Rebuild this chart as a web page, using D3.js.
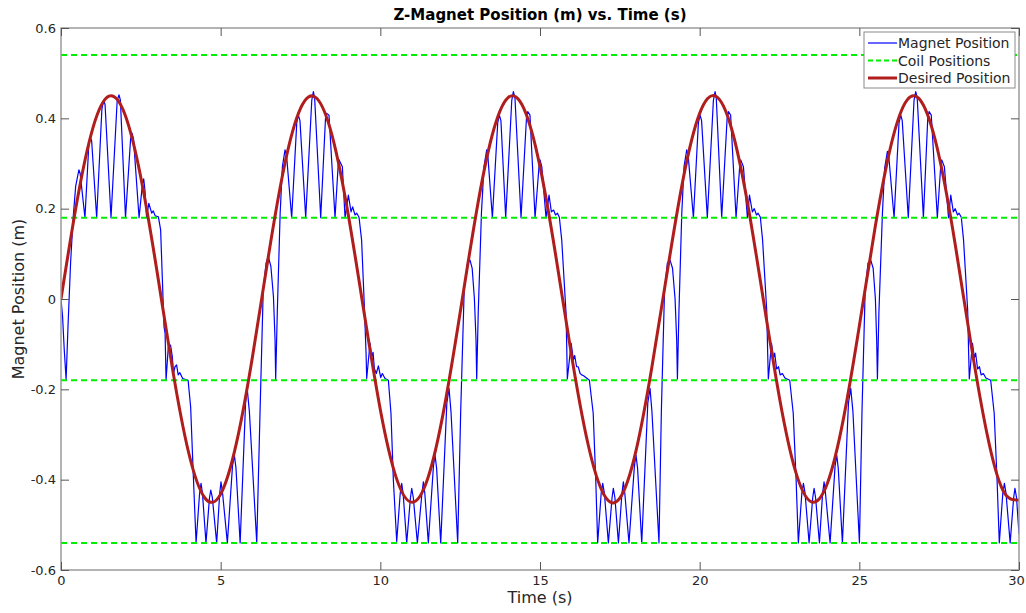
<!DOCTYPE html>
<html>
<head>
<meta charset="utf-8">
<script src="https://cdn.jsdelivr.net/npm/d3@7"></script>
<style>
  body { margin: 0; background: #fff; }
  text { font-family: "DejaVu Sans", sans-serif; }
</style>
</head>
<body>
<svg id="chart" width="1026" height="613"></svg>
<script>
// ---- data ----
const xTicks = [0, 5, 10, 15, 20, 25, 30];
const yTicks = [-0.6, -0.4, -0.2, 0, 0.2, 0.4, 0.6];
const coilPositions = [0.54, 0.18, -0.18, -0.54];

// desired trajectory, sampled every 0.5 s from 0 to 30 s
const desiredStep = 0.5;
const desiredPos = [
  0.000, 0.216, 0.379, 0.449, 0.409, 0.269, 0.064, -0.158, -0.341, -0.440,
  -0.432, -0.317, -0.126, 0.097, 0.296, 0.422, 0.445, 0.359, 0.185, -0.034,
  -0.245, -0.396, -0.450, -0.394, -0.241, -0.030, 0.189, 0.362, 0.446, 0.421,
  0.293, 0.093, -0.130, -0.320, -0.433, -0.441, -0.338, -0.152, 0.067, 0.272,
  0.411, 0.449, 0.377, 0.212, -0.004, -0.219, -0.381, -0.449, -0.408, -0.266,
  -0.060, 0.161, 0.343, 0.441, 0.430, 0.315, 0.122, -0.101, -0.299, -0.424,
  -0.445
];

// magnet response, one array per cycle: [time within cycle (s), position (m)]
const cycleStart = [0, 6.283, 12.566, 18.850, 25.133];
const cycle1 = [
  [0, 0], [0.05, -0.04], [0.10, -0.11], [0.16, -0.178], [0.22, -0.06], [0.30, 0.08],
  [0.38, 0.18], [0.46, 0.25], [0.56, 0.286], [0.60, 0.278], [0.75, 0.180], [0.87, 0.34],
  [0.92, 0.358], [0.96, 0.35], [1.117, 0.180], [1.28, 0.42], [1.337, 0.441], [1.38, 0.43],
  [1.566, 0.180], [1.76, 0.44], [1.816, 0.452], [1.86, 0.44], [2.02, 0.180], [2.18, 0.355],
  [2.224, 0.367], [2.27, 0.355], [2.445, 0.180], [2.55, 0.255], [2.59, 0.266], [2.63, 0.24],
  [2.68, 0.180], [2.75, 0.212], [2.84, 0.19], [2.89, 0.195], [2.95, 0.184], [3.05, 0.182],
  [3.12, 0.153], [3.16, 0.072], [3.226, -0.061], [3.26, -0.076], [3.29, -0.180], [3.36, -0.106],
  [3.43, -0.102], [3.487, -0.128], [3.52, -0.165], [3.57, -0.15], [3.62, -0.146], [3.67, -0.168],
  [3.72, -0.163], [3.81, -0.176], [3.98, -0.180], [4.06, -0.239], [4.145, -0.393], [4.23, -0.540],
  [4.34, -0.43], [4.385, -0.408], [4.43, -0.43], [4.54, -0.540], [4.65, -0.44], [4.69, -0.423],
  [4.74, -0.44], [4.875, -0.540], [4.97, -0.43], [5.01, -0.405], [5.06, -0.43], [5.21, -0.540],
  [5.37, -0.37], [5.43, -0.346], [5.48, -0.375], [5.61, -0.540], [5.78, -0.23], [5.83, -0.198],
  [5.90, -0.25], [6.13, -0.540]
];
const cycle2 = [
  [-0.05, -0.25], [0.05, 0.02], [0.14, 0.08], [0.21, 0.094], [0.29, 0.072], [0.37, 0.005],
  [0.42, -0.09], [0.44, -0.178], [0.49, -0.03], [0.58, 0.19], [0.65, 0.293], [0.733, 0.330],
  [0.78, 0.318], [0.941, 0.180], [1.10, 0.39], [1.15, 0.407], [1.20, 0.395], [1.38, 0.180],
  [1.57, 0.44], [1.62, 0.459], [1.66, 0.445], [1.85, 0.180], [2.00, 0.40], [2.037, 0.411],
  [2.11, 0.407], [2.298, 0.180], [2.40, 0.30], [2.424, 0.308], [2.528, 0.293], [2.612, 0.180],
  [2.716, 0.230], [2.80, 0.193], [2.85, 0.204], [2.925, 0.186], [2.98, 0.19], [3.05, 0.181],
  [3.13, 0.131], [3.217, -0.017], [3.27, -0.12], [3.29, -0.176], [3.394, -0.098], [3.447, -0.128],
  [3.49, -0.118], [3.53, -0.154], [3.59, -0.165], [3.656, -0.148], [3.73, -0.174], [3.78, -0.165],
  [3.864, -0.176], [3.969, -0.180], [4.05, -0.253], [4.125, -0.401], [4.23, -0.537], [4.34, -0.43],
  [4.386, -0.408], [4.43, -0.43], [4.543, -0.540], [4.66, -0.44], [4.70, -0.419], [4.75, -0.44],
  [4.877, -0.540], [5.02, -0.43], [5.065, -0.405], [5.11, -0.43], [5.22, -0.540], [5.38, -0.37],
  [5.43, -0.346], [5.48, -0.375], [5.608, -0.540], [5.80, -0.23], [5.869, -0.198], [5.93, -0.25],
  [6.14, -0.540]
];
const cycle3 = [
  [-0.05, -0.25], [0.06, 0.02], [0.16, 0.078], [0.243, 0.086], [0.31, 0.068], [0.38, 0.0],
  [0.43, -0.09], [0.452, -0.177], [0.50, -0.03], [0.60, 0.19], [0.68, 0.293], [0.765, 0.330],
  [0.80, 0.318], [0.943, 0.180], [1.11, 0.39], [1.162, 0.407], [1.21, 0.395], [1.36, 0.180],
  [1.55, 0.44], [1.60, 0.459], [1.65, 0.445], [1.84, 0.180], [2.01, 0.40], [2.05, 0.415],
  [2.12, 0.407], [2.279, 0.180], [2.41, 0.30], [2.435, 0.308], [2.49, 0.293], [2.623, 0.180],
  [2.717, 0.230], [2.79, 0.193], [2.86, 0.197], [2.92, 0.186], [2.98, 0.19], [3.04, 0.181],
  [3.114, 0.131], [3.25, -0.032], [3.275, -0.12], [3.29, -0.177], [3.41, -0.098], [3.48, -0.135],
  [3.52, -0.125], [3.58, -0.150], [3.63, -0.150], [3.69, -0.165], [3.74, -0.168], [3.80, -0.170],
  [3.98, -0.180], [4.10, -0.253], [4.18, -0.40], [4.24, -0.540], [4.35, -0.43], [4.398, -0.408],
  [4.45, -0.43], [4.575, -0.540], [4.69, -0.44], [4.73, -0.419], [4.78, -0.44], [4.89, -0.540],
  [5.00, -0.43], [5.045, -0.405], [5.09, -0.43], [5.22, -0.540], [5.39, -0.37], [5.44, -0.346],
  [5.49, -0.375], [5.62, -0.540], [5.81, -0.23], [5.88, -0.198], [5.94, -0.25], [6.16, -0.540]
];
const cycle4 = [
  [-0.05, -0.25], [0.05, 0.02], [0.14, 0.08], [0.223, 0.086], [0.30, 0.068], [0.38, 0.0],
  [0.43, -0.09], [0.453, -0.177], [0.50, -0.03], [0.59, 0.19], [0.66, 0.293], [0.745, 0.330],
  [0.79, 0.318], [0.954, 0.180], [1.11, 0.39], [1.163, 0.407], [1.21, 0.395], [1.39, 0.180],
  [1.58, 0.44], [1.632, 0.459], [1.67, 0.445], [1.84, 0.180], [2.01, 0.40], [2.05, 0.415],
  [2.12, 0.407], [2.29, 0.180], [2.41, 0.30], [2.436, 0.308], [2.52, 0.293], [2.645, 0.180],
  [2.71, 0.230], [2.80, 0.193], [2.86, 0.200], [2.93, 0.186], [2.98, 0.19], [3.05, 0.181],
  [3.12, 0.131], [3.25, -0.025], [3.28, -0.12], [3.30, -0.177], [3.40, -0.098], [3.46, -0.13],
  [3.50, -0.12], [3.56, -0.155], [3.62, -0.150], [3.67, -0.168], [3.74, -0.165], [3.82, -0.175],
  [3.97, -0.180], [4.08, -0.253], [4.17, -0.40], [4.24, -0.540], [4.35, -0.43], [4.399, -0.408],
  [4.45, -0.43], [4.577, -0.540], [4.69, -0.44], [4.733, -0.419], [4.78, -0.44], [4.90, -0.540],
  [5.00, -0.43], [5.046, -0.405], [5.09, -0.43], [5.234, -0.540], [5.39, -0.37], [5.443, -0.346],
  [5.49, -0.375], [5.62, -0.540], [5.81, -0.23], [5.881, -0.198], [5.95, -0.25], [6.153, -0.540]
];
const cycle5 = [
  [-0.05, -0.25], [0.05, 0.02], [0.14, 0.08], [0.224, 0.086], [0.30, 0.068], [0.37, 0.0],
  [0.41, -0.09], [0.433, -0.177], [0.48, -0.03], [0.59, 0.19], [0.66, 0.29], [0.746, 0.327],
  [0.79, 0.315], [0.955, 0.180], [1.11, 0.39], [1.164, 0.407], [1.21, 0.395], [1.40, 0.180],
  [1.58, 0.44], [1.633, 0.459], [1.68, 0.445], [1.873, 0.180], [2.01, 0.40], [2.051, 0.415],
  [2.12, 0.407], [2.31, 0.180], [2.42, 0.30], [2.448, 0.308], [2.53, 0.293], [2.66, 0.180],
  [2.73, 0.230], [2.81, 0.193], [2.87, 0.200], [2.94, 0.186], [2.99, 0.19], [3.06, 0.181],
  [3.13, 0.131], [3.26, -0.025], [3.29, -0.12], [3.31, -0.177], [3.41, -0.098], [3.47, -0.13],
  [3.51, -0.12], [3.57, -0.155], [3.63, -0.150], [3.68, -0.168], [3.75, -0.165], [3.83, -0.175],
  [3.98, -0.180], [4.09, -0.253], [4.18, -0.40], [4.25, -0.540], [4.36, -0.43], [4.41, -0.408],
  [4.46, -0.43], [4.59, -0.540], [4.70, -0.44], [4.74, -0.419], [4.79, -0.44], [4.867, -0.52]
];
const magnetCycles = [cycle1, cycle2, cycle3, cycle4, cycle5];

const seriesNames = ["Magnet Position", "Coil Positions", "Desired Position"];
const seriesColors = ["#0000ff", "#00ee00", "#b01d1d"];

// ---- layout ----
const svg = d3.select("#chart");
const plot = { left: 61, right: 1019, top: 28, bottom: 570 };
const x = d3.scaleLinear().domain([0, 30]).range([plot.left, plot.right]);
const y = d3.scaleLinear().domain([-0.6, 0.6]).range([plot.bottom, plot.top]);
const axisColor = "#262626";

svg.append("rect").attr("width", 1026).attr("height", 613).attr("fill", "#fff");

svg.append("defs").append("clipPath").attr("id", "plotClip")
  .append("rect")
  .attr("x", plot.left).attr("y", plot.top)
  .attr("width", plot.right - plot.left).attr("height", plot.bottom - plot.top);

const layer = svg.append("g").attr("clip-path", "url(#plotClip)");

// magnet response
const magnetPoints = magnetCycles.flatMap((c, i) =>
  c.map(([t, z]) => ({ t: cycleStart[i] + t, z })));
const magnetLine = d3.line().x(d => x(d.t)).y(d => y(d.z));
layer.append("path")
  .datum(magnetPoints)
  .attr("d", magnetLine)
  .attr("fill", "none")
  .attr("stroke", seriesColors[0])
  .attr("stroke-width", 1.2)
  .attr("stroke-linejoin", "round");

// coil positions
layer.selectAll("line.coil")
  .data(coilPositions)
  .join("line")
  .attr("class", "coil")
  .attr("x1", x(0)).attr("x2", x(30))
  .attr("y1", d => y(d)).attr("y2", d => y(d))
  .attr("stroke", seriesColors[1])
  .attr("stroke-width", 2)
  .attr("stroke-dasharray", "6,4");

// desired trajectory
const desiredPoints = desiredPos.map((z, i) => ({ t: i * desiredStep, z }));
const desiredLine = d3.line().x(d => x(d.t)).y(d => y(d.z)).curve(d3.curveNatural);
layer.append("path")
  .datum(desiredPoints)
  .attr("d", desiredLine)
  .attr("fill", "none")
  .attr("stroke", seriesColors[2])
  .attr("stroke-width", 3);

// ---- axes box and ticks ----
const boxColor = "#9a9a9a";
svg.append("rect")
  .attr("x", plot.left).attr("y", plot.top)
  .attr("width", plot.right - plot.left).attr("height", plot.bottom - plot.top)
  .attr("fill", "none").attr("stroke", boxColor).attr("stroke-width", 1.5);

const tickLen = 8;
const xAxisB = d3.axisBottom(x).tickValues(xTicks).tickSize(-tickLen).tickPadding(6)
  .tickFormat(d3.format("d"));
const gx = svg.append("g").attr("transform", `translate(0,${plot.bottom})`).call(xAxisB);
const xAxisT = d3.axisTop(x).tickValues(xTicks).tickSize(-tickLen).tickFormat("");
const gxt = svg.append("g").attr("transform", `translate(0,${plot.top})`).call(xAxisT);

const yFmt = d => d === 0 ? "0" : d3.format(".1f")(d).replace("−", "-");
const yAxisL = d3.axisLeft(y).tickValues(yTicks).tickSize(-tickLen).tickPadding(5)
  .tickFormat(yFmt);
const gy = svg.append("g").attr("transform", `translate(${plot.left},0)`).call(yAxisL);
const yAxisR = d3.axisRight(y).tickValues(yTicks).tickSize(-tickLen).tickFormat("");
const gyr = svg.append("g").attr("transform", `translate(${plot.right},0)`).call(yAxisR);

[gx, gxt, gy, gyr].forEach(g => {
  g.select(".domain").remove();
  g.selectAll(".tick line").attr("stroke", "#555").attr("stroke-width", 1);
  g.selectAll(".tick text")
    .attr("fill", axisColor)
    .style("font-family", "DejaVu Sans, sans-serif")
    .style("font-size", "13px");
});
// keep the last x label inside the page edge
gx.selectAll(".tick text").filter(d => d === 30).attr("dx", "-3");

// ---- titles ----
svg.append("text")
  .attr("x", (plot.left + plot.right) / 2).attr("y", 20)
  .attr("text-anchor", "middle")
  .style("font-size", "15px").style("font-weight", "bold")
  .attr("fill", "#000")
  .text("Z-Magnet Position (m) vs. Time (s)");

svg.append("text")
  .attr("x", (plot.left + plot.right) / 2).attr("y", 603)
  .attr("text-anchor", "middle")
  .style("font-size", "16px")
  .attr("fill", axisColor)
  .text("Time (s)");

svg.append("text")
  .attr("transform", `translate(24,${(plot.top + plot.bottom) / 2}) rotate(-90)`)
  .attr("text-anchor", "middle")
  .style("font-size", "16px")
  .attr("fill", axisColor)
  .text("Magnet Position (m)");

// ---- legend ----
const legend = svg.append("g").attr("transform", "translate(864,32)");
legend.append("rect")
  .attr("width", 151).attr("height", 56)
  .attr("fill", "#fff").attr("stroke", "#8a8a8a").attr("stroke-width", 1);
const legendStyles = [
  { w: 1.2, dash: null },
  { w: 2, dash: "5,3" },
  { w: 3, dash: null }
];
seriesNames.forEach((name, i) => {
  const cy = 11 + i * 17.5;
  legend.append("line")
    .attr("x1", 4).attr("x2", 33).attr("y1", cy).attr("y2", cy)
    .attr("stroke", seriesColors[i])
    .attr("stroke-width", legendStyles[i].w)
    .attr("stroke-dasharray", legendStyles[i].dash);
  legend.append("text")
    .attr("x", 34).attr("y", cy + 5)
    .style("font-size", "14px")
    .attr("fill", axisColor)
    .text(name);
});
</script>
</body>
</html>
